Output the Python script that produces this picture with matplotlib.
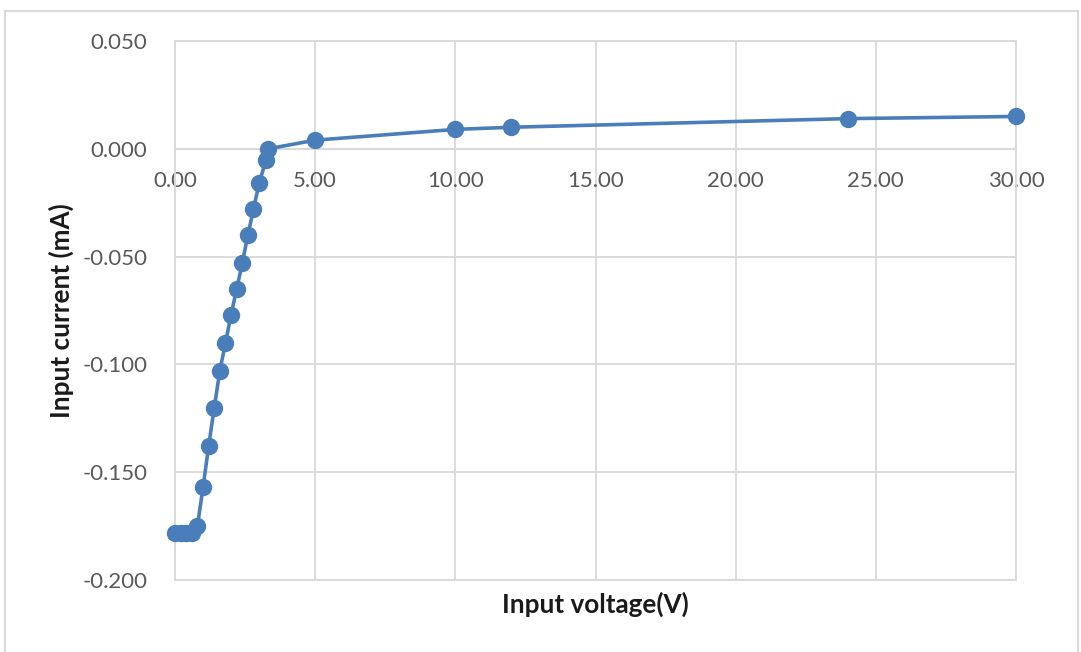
import matplotlib.pyplot as plt
from matplotlib.patches import Rectangle
from matplotlib.ticker import FormatStrFormatter

voltage = [0.0, 0.2, 0.4, 0.6, 0.8, 1.0, 1.2, 1.4, 1.6, 1.8, 2.0, 2.2,
           2.4, 2.6, 2.8, 3.0, 3.25, 3.32, 5.0, 10.0, 12.0, 24.0, 30.0]
current = [-0.178, -0.178, -0.178, -0.178, -0.175, -0.157, -0.138, -0.120,
           -0.103, -0.090, -0.077, -0.065, -0.053, -0.040, -0.028, -0.016,
           -0.005, 0.000, 0.004, 0.009, 0.010, 0.014, 0.015]

x_ticks = [0, 5, 10, 15, 20, 25, 30]
y_ticks = [-0.200, -0.150, -0.100, -0.050, 0.000, 0.050]

plt.rcParams['font.family'] = ['Lato', 'DejaVu Sans']
plt.rcParams['axes.unicode_minus'] = False

W, H = 1081, 652
fig = plt.figure(figsize=(W / 100, H / 100), dpi=100)

# chart area border (bottom edge runs off the image)
fig.patches.append(Rectangle((5 / W, -0.05), (1078 - 5) / W, 1.05 - 11 / H,
                             transform=fig.transFigure, fill=False,
                             edgecolor='#d9d9d9', linewidth=1.5))

left, right, top, bottom = 175, 1016, 41, 580
ax = fig.add_axes([left / W, 1 - bottom / H, (right - left) / W,
                   (bottom - top) / H])

grid_col = '#d9d9d9'
ax.plot(voltage, current, color='#4a7ebb', linewidth=2.6, marker='o',
        markersize=11.5, zorder=3, clip_on=False)

ax.set_xlim(0, 30)
ax.set_ylim(-0.2, 0.05)
ax.set_xticks(x_ticks)
ax.set_yticks(y_ticks)
ax.xaxis.set_major_formatter(FormatStrFormatter('%.2f'))
ax.yaxis.set_major_formatter(FormatStrFormatter('%.3f'))
ax.grid(True, color=grid_col, linewidth=1.3)
ax.set_axisbelow(True)

for side in ['left', 'right', 'top', 'bottom']:
    ax.spines[side].set_color(grid_col)
    ax.spines[side].set_linewidth(1.3)
ax.spines['bottom'].set_position(('data', 0))
ax.axhline(-0.2, color=grid_col, linewidth=1.3, clip_on=False, zorder=0)

ax.tick_params(axis='both', length=0, labelsize=16, labelcolor='#595959')
ax.tick_params(axis='x', pad=16)
ax.tick_params(axis='y', pad=20)

ax.set_xlabel('Input voltage(V)', fontsize=18.8, fontweight='bold',
              color='#1a1a1a')
ax.xaxis.set_label_coords(0.5, (bottom - 613) / (bottom - top))
ax.xaxis.label.set_va('baseline')
ax.set_ylabel('Input current (mA)', fontsize=18.8, fontweight='bold',
              color='#1a1a1a')
ax.yaxis.set_label_coords((61 - left) / (right - left), 0.5)
ax.yaxis.label.set_va('center')

fig.savefig('out.png', dpi=100)
